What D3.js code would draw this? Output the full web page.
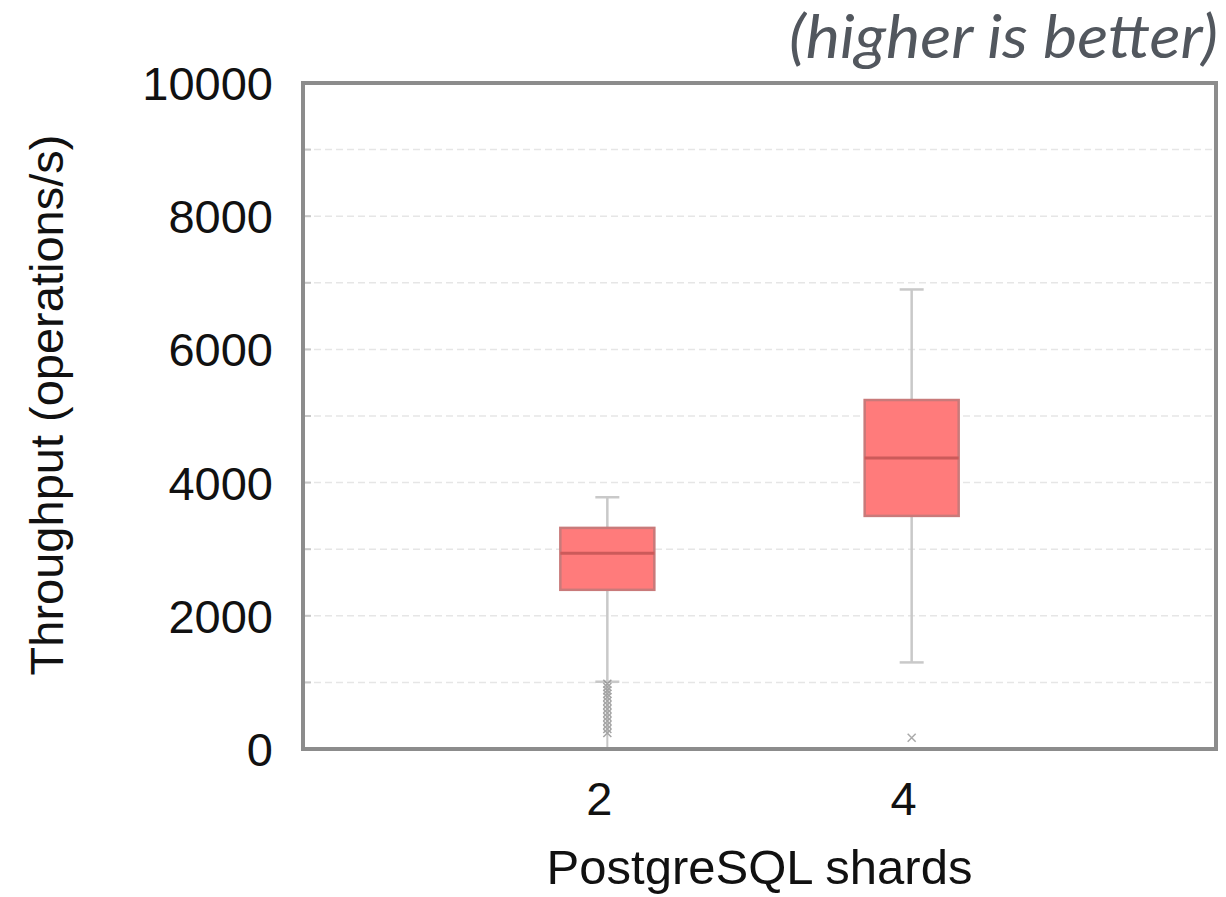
<!DOCTYPE html>
<html>
<head>
<meta charset="utf-8">
<script src="https://cdn.jsdelivr.net/npm/d3@7"></script>
<style>
  body { margin: 0; background: #fff; }
  svg { display: block; }
</style>
</head>
<body>
<div id="chart"></div>
<script>
// data
const shards = [2, 4];
const q1 = [2390, 3500];
const median = [2940, 4370];
const q3 = [3320, 5240];
const whiskerLow = [1010, 1300];
const whiskerHigh = [3780, 6900];
const outliers2 = [980, 930, 880, 830, 780, 720, 660, 600, 540, 480, 420, 360, 300, 240];
const outliers4 = [170];
const yTicks = [0, 2000, 4000, 6000, 8000, 10000];
const yGrid = [1000, 2000, 3000, 4000, 5000, 6000, 7000, 8000, 9000];

const W = 1226, H = 897;
const m = {left: 303, right: 10, top: 83, bottom: 148};

const svg = d3.select("#chart").append("svg")
  .attr("width", W).attr("height", H);

const x = d3.scaleLinear().domain([0, 6]).range([m.left, W - m.right]);
const y = d3.scaleLinear().domain([0, 10000]).range([H - m.bottom, m.top]);

// dashed grid
svg.append("g").selectAll("line").data(yGrid).enter().append("line")
  .attr("x1", m.left).attr("x2", W - m.right)
  .attr("y1", d => y(d)).attr("y2", d => y(d))
  .attr("stroke", "#e6e6e6").attr("stroke-width", 1.5)
  .attr("stroke-dasharray", "7,4");

// small ticks on left
svg.append("g").selectAll("line").data(yGrid).enter().append("line")
  .attr("x1", m.left).attr("x2", m.left + 8)
  .attr("y1", d => y(d)).attr("y2", d => y(d))
  .attr("stroke", "#c8c8c8").attr("stroke-width", 2);

const boxW = 94;
const idx = d3.range(shards.length);

// whiskers
const wg = svg.append("g").attr("stroke", "#c9c9c9").attr("stroke-width", 2.5);
idx.forEach(i => {
  const cx = x(shards[i]);
  wg.append("line").attr("x1", cx).attr("x2", cx)
    .attr("y1", y(whiskerHigh[i])).attr("y2", y(q3[i]));
  wg.append("line").attr("x1", cx).attr("x2", cx)
    .attr("y1", y(q1[i])).attr("y2", y(whiskerLow[i]));
  wg.append("line").attr("x1", cx - 12).attr("x2", cx + 12)
    .attr("y1", y(whiskerHigh[i])).attr("y2", y(whiskerHigh[i]));
  wg.append("line").attr("x1", cx - 12).attr("x2", cx + 12)
    .attr("y1", y(whiskerLow[i])).attr("y2", y(whiskerLow[i]));
});

// outliers as small x marks
function crossPath(cx, cy) {
  return `M${cx-4},${cy-4}L${cx+4},${cy+4}M${cx-4},${cy+4}L${cx+4},${cy-4}`;
}
const og = svg.append("g").attr("stroke", "#8e8e8e").attr("stroke-width", 1.5).attr("opacity", 0.8);
og.append("line").attr("x1", x(2)).attr("x2", x(2))
  .attr("y1", y(d3.max(outliers2))).attr("y2", y(0))
  .attr("stroke", "#b8b8b8").attr("stroke-width", 2);
og.selectAll("path.o2").data(outliers2).enter().append("path")
  .attr("d", d => crossPath(x(2), y(d)));
svg.append("g").attr("stroke", "#aaaaaa").attr("stroke-width", 1.5).selectAll("path")
  .data(outliers4).enter().append("path")
  .attr("d", d => crossPath(x(4), y(d)));

// boxes
idx.forEach(i => {
  const cx = x(shards[i]);
  svg.append("rect")
    .attr("x", cx - boxW / 2).attr("width", boxW)
    .attr("y", y(q3[i])).attr("height", y(q1[i]) - y(q3[i]))
    .attr("fill", "#ff7b7b").attr("stroke", "#c97a7a").attr("stroke-width", 2.5);
  svg.append("line")
    .attr("x1", cx - boxW / 2).attr("x2", cx + boxW / 2)
    .attr("y1", y(median[i])).attr("y2", y(median[i]))
    .attr("stroke", "#cc5a5a").attr("stroke-width", 3);
});

// frame
svg.append("rect")
  .attr("x", m.left).attr("y", m.top)
  .attr("width", W - m.right - m.left).attr("height", H - m.bottom - m.top)
  .attr("fill", "none").attr("stroke", "#8c8c8c").attr("stroke-width", 4);

const font = "'Liberation Sans', Arial, sans-serif";

// y tick labels
svg.append("g").selectAll("text").data(yTicks).enter().append("text")
  .attr("x", 273).attr("y", d => y(d))
  .attr("dy", "0.36em")
  .attr("text-anchor", "end")
  .attr("font-family", font).attr("font-size", 47)
  .attr("fill", "#111")
  .text(d => d);

// x tick labels
svg.append("g").selectAll("text").data(shards).enter().append("text")
  .attr("x", d => x(d) - 8).attr("y", 815)
  .attr("text-anchor", "middle")
  .attr("font-family", font).attr("font-size", 47)
  .attr("fill", "#111")
  .text(d => d);

// axis titles
svg.append("text")
  .attr("x", (m.left + W - m.right) / 2).attr("y", 884)
  .attr("text-anchor", "middle")
  .attr("font-family", font).attr("font-size", 49)
  .attr("fill", "#111")
  .text("PostgreSQL shards");

svg.append("text")
  .attr("transform", "translate(63,405) rotate(-90)")
  .attr("text-anchor", "middle")
  .attr("font-family", font).attr("font-size", 47)
  .attr("fill", "#111")
  .text("Throughput (operations/s)");

svg.append("text")
  .attr("x", 1218).attr("y", 58)
  .attr("text-anchor", "end")
  .attr("font-family", "Lato, 'Open Sans', sans-serif")
  .attr("font-style", "italic")
  .attr("font-size", 60)
  .attr("textLength", 429)
  .attr("lengthAdjust", "spacingAndGlyphs")
  .attr("fill", "#52575e")
  .text("(higher is better)");
</script>
</body>
</html>
